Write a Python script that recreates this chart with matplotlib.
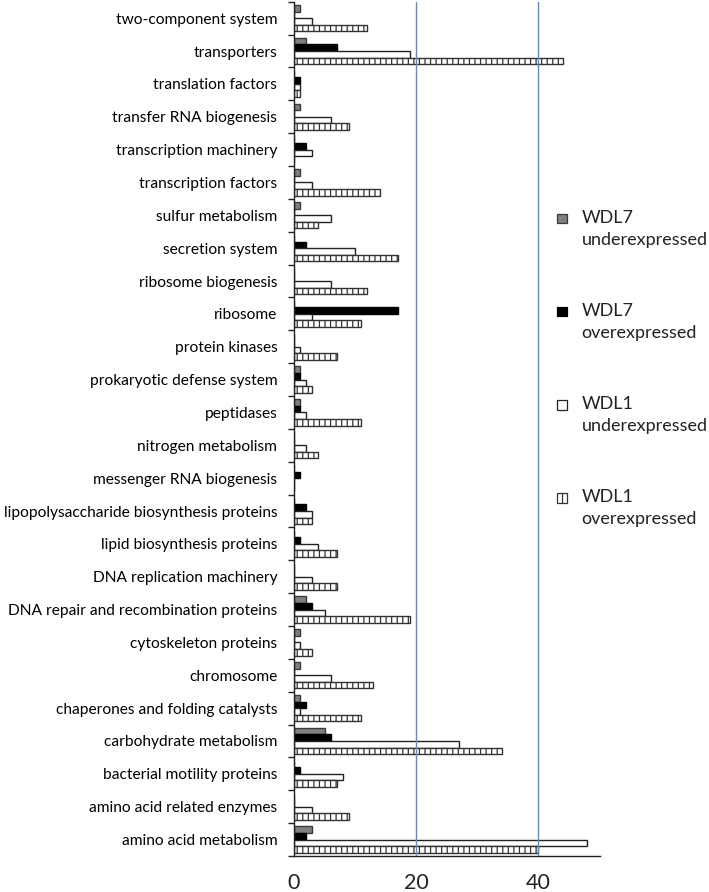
import matplotlib
matplotlib.use("Agg")
import matplotlib.pyplot as plt
from matplotlib.patches import Rectangle
import numpy as np

plt.rcParams['font.family'] = ['Lato', 'DejaVu Sans']
plt.rcParams['hatch.linewidth'] = 0.9

# --- data (bottom -> top) ---
categories = [
    "amino acid metabolism", "amino acid related enzymes", "bacterial motility proteins",
    "carbohydrate metabolism", "chaperones and folding catalysts", "chromosome",
    "cytoskeleton proteins", "DNA repair and recombination proteins", "DNA replication machinery",
    "lipid biosynthesis proteins", "lipopolysaccharide biosynthesis proteins",
    "messenger RNA biogenesis", "nitrogen metabolism", "peptidases",
    "prokaryotic defense system", "protein kinases", "ribosome", "ribosome biogenesis",
    "secretion system", "sulfur metabolism", "transcription factors",
    "transcription machinery", "transfer RNA biogenesis", "translation factors",
    "transporters", "two-component system",
]
wdl7_under = [3, 0, 0, 5, 1, 1, 1, 2, 0, 0, 0, 0, 0, 1, 1, 0, 0, 0, 0, 1, 1, 0, 1, 0, 2, 1]
wdl7_over = [2, 0, 1, 6, 2, 0, 0, 3, 0, 1, 2, 1, 0, 1, 1, 0, 17, 0, 2, 0, 0, 2, 0, 1, 7, 0]
wdl1_under = [48, 3, 8, 27, 1, 6, 1, 5, 3, 4, 3, 0, 2, 2, 2, 1, 3, 6, 10, 6, 3, 3, 6, 1, 19, 3]
wdl1_over = [40, 9, 7, 34, 11, 13, 3, 19, 7, 7, 3, 0, 4, 11, 3, 7, 11, 12, 17, 4, 14, 0, 9, 1, 44, 12]

series_labels = ["WDL7\nunderexpressed", "WDL7\noverexpressed",
                 "WDL1\nunderexpressed", "WDL1\noverexpressed"]
xticks = [0, 20, 40]

# --- styles ---
styles = [
    dict(color="#808080", edgecolor="#3a3a3a", hatch=None),
    dict(color="#000000", edgecolor="#000000", hatch=None),
    dict(color="#ffffff", edgecolor="#222222", hatch=None),
    dict(color="#ffffff", edgecolor="#333333", hatch="|||"),
]
offsets = [0.3, 0.1, -0.1, -0.3]
bar_h = 0.2

fig = plt.figure(figsize=(7.09, 8.92), dpi=100)
ax = fig.add_axes([0.4147, 0.0404, 0.431, 0.9576])

y = np.arange(len(categories))
for vals, st, off in zip([wdl7_under, wdl7_over, wdl1_under, wdl1_over], styles, offsets):
    ax.barh(y + off, vals, height=bar_h, color=st["color"], edgecolor=st["edgecolor"],
            hatch=st["hatch"], linewidth=1.0, zorder=2)

for gx in xticks[1:]:
    ax.axvline(gx, color="#5b8dc8", lw=1.0, zorder=3)

ax.set_xlim(0, 50)
ax.set_ylim(-0.5, len(categories) - 0.5)
ax.set_xticks(xticks)
ax.set_xticklabels([str(v) for v in xticks], fontsize=15.5)
ax.tick_params(axis="x", length=0, pad=12, colors="#222222")

ax.set_yticks(y)
ax.set_yticklabels(categories, fontsize=11.2)
ax.set_yticks(np.arange(len(categories) + 1) - 0.5, minor=True)
ax.tick_params(axis="y", which="major", length=0, pad=12)
ax.tick_params(axis="y", which="minor", length=4, width=1, direction="out", color="#222222")

for s in ["top", "right"]:
    ax.spines[s].set_visible(False)
for s in ["left", "bottom"]:
    ax.spines[s].set_color("#222222")
    ax.spines[s].set_linewidth(1.0)

# --- legend drawn by hand: marker beside first line of each label ---
leg_x, leg_y0, leg_dy = 0.786, 0.755, 0.1043
for i, (lab, st) in enumerate(zip(series_labels, styles)):
    ty = leg_y0 - i * leg_dy
    fig.patches.append(Rectangle((leg_x, ty - 0.0055), 0.0135, 0.0108, transform=fig.transFigure,
                                 facecolor=st["color"], edgecolor=st["edgecolor"],
                                 hatch="||" if st["hatch"] else None, lw=0.9))
    fig.text(leg_x + 0.034, ty + 0.0095, lab, fontsize=13, va="top", ha="left",
             linespacing=1.45, color="#222222")

fig.savefig("out.png", dpi=100)
